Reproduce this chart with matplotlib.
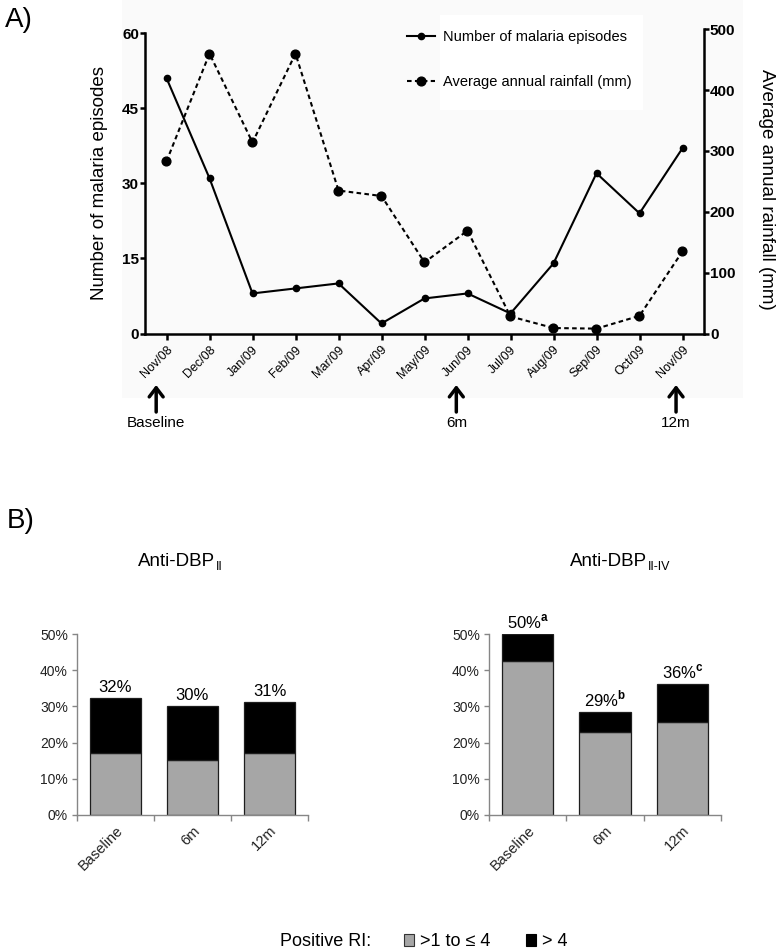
import matplotlib
matplotlib.use('Agg')
import matplotlib.pyplot as plt
from matplotlib import font_manager
from matplotlib.patches import Patch, Rectangle

# ---------------- data ----------------
months = ['Nov/08', 'Dec/08', 'Jan/09', 'Feb/09', 'Mar/09', 'Apr/09', 'May/09',
          'Jun/09', 'Jul/09', 'Aug/09', 'Sep/09', 'Oct/09', 'Nov/09']
malaria_episodes = [51, 31, 8, 9, 10, 2, 7, 8, 4, 14, 32, 24, 37]
rainfall_mm = [283, 460, 314, 460, 235, 226, 117, 169, 28, 9, 8, 29, 135]
left_ticks = [0, 15, 30, 45, 60]
right_ticks = [0, 100, 200, 300, 400, 500]
milestone_labels = ['Baseline', '6m', '12m']
milestone_month_idx = [0, 7, 12]
milestone_offset = [-0.24, -0.26, -0.15]

timepoints = ['Baseline', '6m', '12m']
pct_ticks = [0, 10, 20, 30, 40, 50]
dbp2_low = [17.0, 15.3, 17.0]        # >1 to <=4
dbp2_total = [32.4, 30.1, 31.2]
dbp2_labels = ['32%', '30%', '31%']
dbp2_sup = ['', '', '']
dbp24_low = [42.6, 23.0, 25.7]
dbp24_total = [50.0, 28.5, 36.1]
dbp24_labels = ['50%', '29%', '36%']
dbp24_sup = ['a', 'b', 'c']
ri_legend = ['>1 to \u2264 4', '> 4']

# ---------------- setup ----------------
W, H = 781, 952
def fx(px):
    return px / W
def fy(py):
    return 1 - py / H

names = {f.name for f in font_manager.fontManager.ttflist}
SANS = 'Liberation Sans' if 'Liberation Sans' in names else 'DejaVu Sans'
if 'Liberation Sans Narrow' in names:
    NARROW = 'Liberation Sans Narrow'
    FS_TICK, FS_CAT, FS_ANN, FS_LEG = 11.5, 11.5, 13.5, 14.5
else:
    NARROW = SANS
    FS_TICK, FS_CAT, FS_ANN, FS_LEG = 10, 10.5, 12, 13

plt.rcParams['font.family'] = [SANS, 'DejaVu Sans']
plt.rcParams['mathtext.fontset'] = 'custom'
plt.rcParams['mathtext.rm'] = NARROW
plt.rcParams['mathtext.bf'] = NARROW + ':bold'

fig = plt.figure(figsize=(W / 100, H / 100), dpi=100)
fig.patches.append(Rectangle((fx(122), fy(398)), (743 - 122) / W, 398 / H,
                             transform=fig.transFigure, facecolor='#fafafa',
                             edgecolor='none', zorder=-10))
fig.patches.append(Rectangle((fx(440), fy(110)), (643 - 440) / W, 95 / H,
                             transform=fig.transFigure, facecolor='white',
                             edgecolor='none', zorder=-9))

# ---------------- Panel A ----------------
x = list(range(len(months)))
axA = fig.add_axes([fx(145), fy(333.5), 559 / W, 304.5 / H])
axA.set_facecolor('none')
axA.set_xlim(-0.5, 12.5)
axA.set_ylim(0, 60.8)
axR = axA.twinx()
axR.set_ylim(0, 500.5)

l1, = axA.plot(x, malaria_episodes, color='k', lw=1.5, marker='o', ms=4.5,
               clip_on=False, zorder=3)
l2, = axR.plot(x, rainfall_mm, color='k', lw=1.5, ls=(0, (2.2, 1.6)),
               marker='o', ms=6.3, clip_on=False)

axA.spines['top'].set_visible(False)
axA.spines['right'].set_visible(False)
axR.spines['top'].set_visible(False)
axR.spines['left'].set_visible(False)
axR.spines['bottom'].set_visible(False)
for sp in ('left', 'bottom'):
    axA.spines[sp].set_linewidth(1.8)
axR.spines['right'].set_linewidth(1.8)
axA.spines['left'].set_bounds(0, 60)
axR.spines['right'].set_bounds(0, 500)

axA.set_yticks(left_ticks, labels=[str(t) for t in left_ticks],
               fontweight='bold', fontsize=11)
axR.set_yticks(right_ticks, labels=[str(t) for t in right_ticks],
               fontweight='bold', fontsize=11)
axA.tick_params(axis='y', length=3.5, width=1.8, pad=0.8)
axR.tick_params(axis='y', length=3.5, width=1.8, pad=0.8)
axA.set_xticks(x, labels=months, rotation=45, ha='right',
               rotation_mode='anchor', fontsize=9)
axA.tick_params(axis='x', length=4.3, width=1.8, pad=3)

fig.text(fx(100), fy(183), 'Number of malaria episodes', rotation=90,
         ha='center', va='center', fontsize=13.5)
fig.text(fx(767), fy(189), 'Average annual rainfall (mm)', rotation=270,
         ha='center', va='center', fontsize=13.5)

fig.legend([l1, l2], ['Number of malaria episodes', 'Average annual rainfall (mm)'],
           loc='upper left', bbox_to_anchor=(fx(407), fy(30)), frameon=False,
           prop={'family': SANS, 'size': 10.5}, handlelength=1.9,
           handletextpad=0.55, labelspacing=2.15, borderpad=0, borderaxespad=0)

for idx, off, lab in zip(milestone_month_idx, milestone_offset, milestone_labels):
    xa = x[idx] + off
    axA.annotate('', xy=(xa, fy(385)), xytext=(xa, fy(412)),
                 xycoords=('data', 'figure fraction'),
                 textcoords=('data', 'figure fraction'),
                 arrowprops=dict(arrowstyle='->,head_length=0.65,head_width=0.5',
                                 lw=2.5, color='k', shrinkA=0, shrinkB=0),
                 annotation_clip=False)
    axA.annotate(lab, xy=(xa, fy(423)), xycoords=('data', 'figure fraction'),
                 ha='center', va='center', fontsize=11, annotation_clip=False)

fig.text(fx(5), fy(27), 'A)', ha='left', va='baseline', fontsize=20)
fig.text(fx(7), fy(528), 'B)', ha='left', va='baseline', fontsize=20)

# ---------------- Panel B ----------------
def bar_panel(left_px, width_px, low, total, labels, sups, title_main,
              title_sub, join_px):
    ax = fig.add_axes([fx(left_px), fy(815), width_px / W, 181 / H])
    xb = list(range(len(timepoints)))
    high = [t - l for t, l in zip(total, low)]
    ax.bar(xb, low, width=0.66, color='#a6a6a6', edgecolor='#1e1e1e', linewidth=0.9)
    ax.bar(xb, high, bottom=low, width=0.66, color='black', edgecolor='#1e1e1e',
           linewidth=0.9)
    ax.set_xlim(-0.5, 2.5)
    ax.set_ylim(0, 50)
    for sp in ('top', 'right'):
        ax.spines[sp].set_visible(False)
    for sp in ('left', 'bottom'):
        ax.spines[sp].set_color('#868686')
        ax.spines[sp].set_linewidth(1.0)
    ax.set_yticks(pct_ticks, labels=[f'{t}%' for t in pct_ticks],
                  fontfamily=NARROW, fontsize=FS_TICK, color='#222222')
    ax.tick_params(axis='y', length=3.5, width=1.0, color='#868686', pad=3)
    ax.set_xticks(xb, labels=timepoints, rotation=45, ha='right',
                  rotation_mode='anchor', fontfamily=NARROW, fontsize=FS_CAT,
                  color='#222222')
    ax.tick_params(axis='x', which='major', length=0, pad=6)
    ax.set_xticks([-0.5, 0.5, 1.5, 2.5], minor=True)
    ax.tick_params(axis='x', which='minor', length=4, width=1.0, color='#868686')
    for i, (t, lab, s) in enumerate(zip(total, labels, sups)):
        txt = lab + (r'$^{\mathbf{' + s + '}}$' if s else '')
        ax.annotate(txt, xy=(i, t), xytext=(0, 2), textcoords='offset points',
                    ha='center', va='bottom', fontsize=FS_ANN, fontfamily=NARROW,
                    annotation_clip=False)
    fig.text(fx(join_px), fy(566), title_main, ha='right', va='baseline',
             fontsize=13.5)
    fig.text(fx(join_px + 1), fy(570), title_sub, ha='left', va='baseline',
             fontsize=9)
    return ax

bar_panel(77, 231, dbp2_low, dbp2_total, dbp2_labels, dbp2_sup,
          'Anti-DBP', 'II', 215)
bar_panel(489, 232, dbp24_low, dbp24_total, dbp24_labels, dbp24_sup,
          'Anti-DBP', 'II-IV', 647)

fig.text(fx(280), fy(942), 'Positive RI:', ha='left', va='center',
         fontsize=FS_LEG, fontfamily=NARROW)
fig.legend([Patch(facecolor='#a6a6a6', edgecolor='#333333', linewidth=0.8),
            Patch(facecolor='black', edgecolor='black', linewidth=0.8)],
           ri_legend, ncol=2, loc='center left',
           bbox_to_anchor=(fx(404), fy(942)), frameon=False,
           prop={'family': NARROW, 'size': FS_LEG}, handlelength=0.55,
           handleheight=0.6, handletextpad=0.35, columnspacing=1.95,
           borderpad=0, borderaxespad=0)

fig.savefig('out.png', dpi=100)
